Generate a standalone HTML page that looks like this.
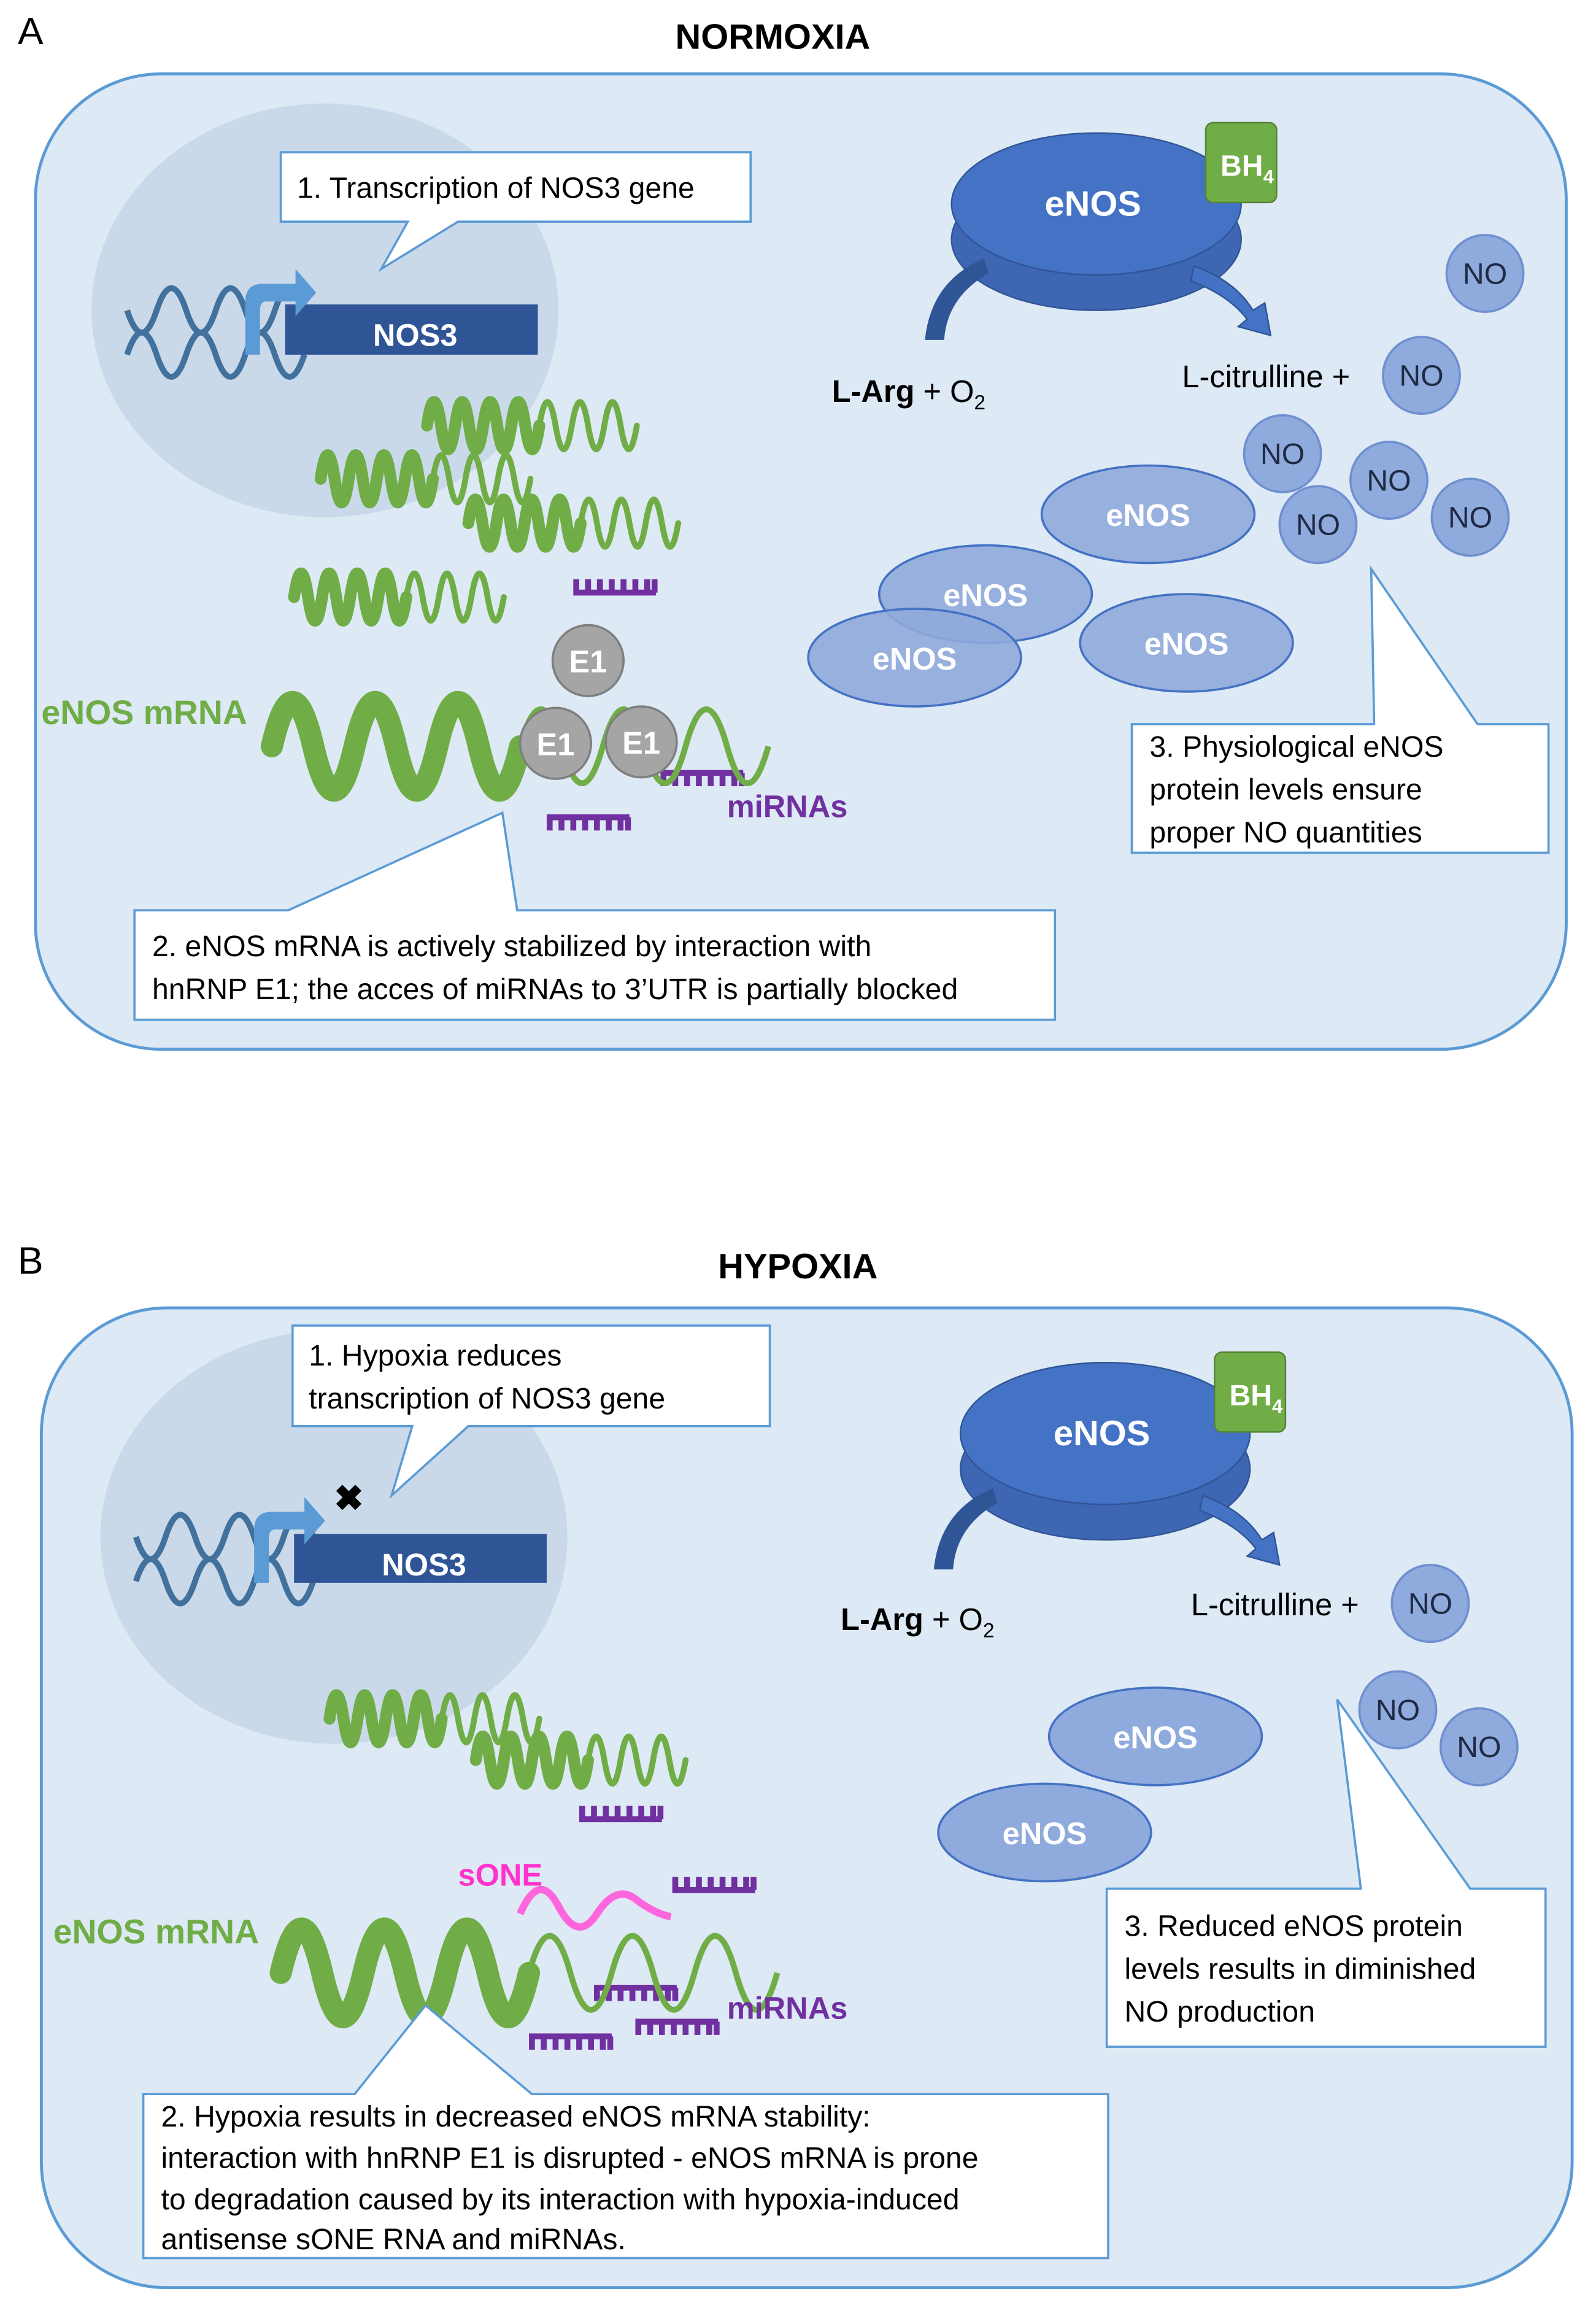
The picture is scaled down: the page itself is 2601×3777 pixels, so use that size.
<!DOCTYPE html>
<html><head><meta charset="utf-8"><style>html,body{margin:0;padding:0;background:#fff}svg{display:block}text{font-family:"Liberation Sans",sans-serif}</style></head><body>
<svg width="2601" height="3777" viewBox="0 0 2601 3777" xmlns="http://www.w3.org/2000/svg">
<g transform="scale(2.408)">
<defs>
<g id="sq"><path d="M0,0 q4.75,-32 9.5,0 t9.5,0 t9.5,0 t9.5,0 t9.5,0 t9.5,0 t9.5,0 t9.5,0" fill="none" stroke="#70ad47" stroke-width="8" stroke-linecap="round"/><path d="M76,0 q5.5,-32 11,0 t11,0 t11,0 t11,0 t11,0 t11,0" fill="none" stroke="#70ad47" stroke-width="4" stroke-linecap="round"/></g>
<g id="mi"><path d="M0,0 h56 M2,0 v-9 M10,0 v-9 M18,0 v-9 M26,0 v-9 M34,0 v-9 M42,0 v-9 M50,0 v-9 M55,0 v-9" stroke="#7030a0" stroke-width="4" fill="none"/></g>
<g id="mid"><path d="M0,0 h56 M2,0 v9 M10,0 v9 M18,0 v9 M26,0 v9 M34,0 v9 M42,0 v9 M50,0 v9 M55,0 v9" stroke="#7030a0" stroke-width="4" fill="none"/></g>
<g id="dna"><path d="M0,0 q10,30 20,0 t20,0 t20,0 t20,0 t20,0 t20,0" fill="none" stroke="#41719c" stroke-width="4"/><path d="M0,30 q10,-30 20,0 t20,0 t20,0 t20,0 t20,0 t20,0" fill="none" stroke="#41719c" stroke-width="4"/></g>
<g id="main"><path d="M0,0 q14,-60 28,0 t28,0 t28,0 t28,0 t28,0 t28,0" fill="none" stroke="#70ad47" stroke-width="15" stroke-linecap="round"/><path d="M168,0 q14,-50 28,0 t28,0 t28,0 t28,0 t28,0 t28,0" fill="none" stroke="#70ad47" stroke-width="4"/></g>
</defs>
<text x="12" y="30" font-size="26">A</text>
<text x="523" y="33" font-size="24" font-weight="bold" text-anchor="middle">NORMOXIA</text>
<rect x="24" y="50" width="1036" height="660" rx="85" fill="#dde9f5" stroke="#5b9bd5" stroke-width="2"/>
<ellipse cx="220" cy="210" rx="158" ry="140" fill="#cad9ea"/>
<use href="#dna" x="86" y="210"/>
<rect x="193" y="206" width="171" height="34" fill="#2f5597"/>
<text x="281" y="234" font-size="21" font-weight="bold" fill="#fff" text-anchor="middle">NOS3</text>
<path d="M166,240 v-36 q0,-12 12,-12 h22 v-10 l14,16 l-14,16 v-10 h-20 q-4,0 -4,6 v30z" fill="#5b9bd5"/>
<path d="M190,103 h318 v47 h-198 l-52,32 l18,-32 h-86z" fill="#fff" stroke="#5b9bd5" stroke-width="1.5"/>
<text x="201" y="134" font-size="20">1. Transcription of NOS3 gene</text>
<use href="#sq" x="289" y="288"/><use href="#sq" x="217" y="324"/><use href="#sq" x="317" y="354"/><use href="#sq" x="199" y="404"/>
<use href="#mi" x="388" y="401"/><use href="#mid" x="447" y="523"/><use href="#mid" x="370" y="553"/>
<use href="#main" x="184" y="505"/>
<g fill="#a5a5a5" stroke="#7f7f7f" stroke-width="1.5"><circle cx="398" cy="447" r="24"/><circle cx="376" cy="503" r="24"/><circle cx="434" cy="502" r="24"/></g>
<g font-size="21" font-weight="bold" fill="#fff" text-anchor="middle"><text x="398" y="455">E1</text><text x="376" y="511">E1</text><text x="434" y="510">E1</text></g>
<text x="28" y="490" font-size="23" font-weight="bold" fill="#70ad47">eNOS mRNA</text>
<text x="492" y="553" font-size="21" font-weight="bold" fill="#7030a0">miRNAs</text>
<path d="M91,616 h104 l145,-66 l10,66 h364 v74 h-623z" fill="#fff" stroke="#5b9bd5" stroke-width="1.5"/>
<text x="103" y="647" font-size="20">2. eNOS mRNA is actively stabilized by interaction with</text>
<text x="103" y="676" font-size="20">hnRNP E1; the acces of miRNAs to 3’UTR is partially blocked</text>
<ellipse cx="742" cy="162" rx="98" ry="48" fill="#3e66b3" stroke="#2f5597"/>
<ellipse cx="742" cy="138" rx="98" ry="48" fill="#4472c4" stroke="#2f5597"/>
<rect x="816" y="83" width="48" height="54" rx="5" fill="#70ad47" stroke="#548235"/>
<text x="826" y="119" font-size="20" font-weight="bold" fill="#fff">BH<tspan font-size="13" dy="5">4</tspan></text>
<text x="707" y="146" font-size="24" font-weight="bold" fill="#fff">eNOS</text>
<path d="M626,230 q4,-40 40,-55 l3,10 q-28,16 -30,45z" fill="#2f5597"/>
<path d="M808,180 q28,10 40,30 l8,-5 l4,22 l-22,-6 l6,-5 q-12,-16 -38,-26z" fill="#4472c4" stroke="#2f5597"/>
<text x="563" y="272" font-size="21"><tspan font-weight="bold">L-Arg</tspan> + O<tspan font-size="14" dy="5">2</tspan></text>
<text x="800" y="262" font-size="21">L-citrulline +</text>
<g fill="#8faadc" stroke="#6f8fd0" stroke-width="1.5"><circle cx="962" cy="254" r="26"/><circle cx="1005" cy="185" r="26"/><circle cx="868" cy="307" r="26"/><circle cx="940" cy="325" r="26"/><circle cx="892" cy="355" r="26"/><circle cx="995" cy="350" r="26"/></g>
<g font-size="20" text-anchor="middle" fill="#1f2a44"><text x="962" y="261">NO</text><text x="1005" y="192">NO</text><text x="868" y="314">NO</text><text x="940" y="332">NO</text><text x="892" y="362">NO</text><text x="995" y="357">NO</text></g>
<g fill="#8faadc" fill-opacity="0.9" stroke="#4472c4" stroke-width="1.5"><ellipse cx="777" cy="348" rx="72" ry="33"/><ellipse cx="803" cy="435" rx="72" ry="33"/><ellipse cx="667" cy="402" rx="72" ry="33"/><ellipse cx="619" cy="445" rx="72" ry="33"/></g>
<g font-size="21" font-weight="bold" fill="#fff" text-anchor="middle"><text x="777" y="356">eNOS</text><text x="803" y="443">eNOS</text><text x="667" y="410">eNOS</text><text x="619" y="453">eNOS</text></g>
<path d="M766,490 h164 l-2,-105 l72,105 h48 v87 h-282z" fill="#fff" stroke="#5b9bd5" stroke-width="1.5"/>
<text x="778" y="512" font-size="20">3. Physiological eNOS</text>
<text x="778" y="541" font-size="20">protein levels ensure</text>
<text x="778" y="570" font-size="20">proper NO quantities</text>

<text x="12" y="862" font-size="26">B</text>
<text x="540" y="865" font-size="24" font-weight="bold" text-anchor="middle">HYPOXIA</text>
<rect x="28" y="885" width="1036" height="663" rx="85" fill="#dde9f5" stroke="#5b9bd5" stroke-width="2"/>
<ellipse cx="226" cy="1040" rx="158" ry="140" fill="#cad9ea"/>
<use href="#dna" x="92" y="1040"/>
<rect x="199" y="1038" width="171" height="33" fill="#2f5597"/>
<text x="287" y="1066" font-size="21" font-weight="bold" fill="#fff" text-anchor="middle">NOS3</text>
<path d="M172,1071 v-36 q0,-12 12,-12 h22 v-10 l14,16 l-14,16 v-10 h-20 q-4,0 -4,6 v30z" fill="#5b9bd5"/>
<text x="236" y="1022" font-size="24" font-weight="bold" text-anchor="middle">✖</text>
<path d="M198,897 h323 v68 h-204 l-52,47 l14,-47 h-81z" fill="#fff" stroke="#5b9bd5" stroke-width="1.5"/>
<text x="209" y="924" font-size="20">1. Hypoxia reduces</text>
<text x="209" y="953" font-size="20">transcription of NOS3 gene</text>
<use href="#sq" x="223" y="1163"/><use href="#sq" x="322" y="1191"/>
<use href="#mi" x="392" y="1231"/><use href="#mi" x="455" y="1279"/><use href="#mid" x="402" y="1345"/><use href="#mid" x="430" y="1368"/><use href="#mid" x="358" y="1378"/>
<use href="#main" x="190" y="1335"/>
<path d="M352,1295 q13,-30 26,-5 t26,5 t26,-10 t24,12" fill="none" stroke="#ff66dd" stroke-width="5"/>
<text x="310" y="1276" font-size="21" font-weight="bold" fill="#ff33cc">sONE</text>
<text x="36" y="1315" font-size="23" font-weight="bold" fill="#70ad47">eNOS mRNA</text>
<text x="492" y="1366" font-size="21" font-weight="bold" fill="#7030a0">miRNAs</text>
<path d="M97,1417 h143 l48,-60 l72,60 h390 v111 h-653z" fill="#fff" stroke="#5b9bd5" stroke-width="1.5"/>
<text x="109" y="1439" font-size="20">2. Hypoxia results in decreased eNOS mRNA stability:</text>
<text x="109" y="1467" font-size="20">interaction with hnRNP E1 is disrupted - eNOS mRNA is prone</text>
<text x="109" y="1495" font-size="20">to degradation caused by its interaction with hypoxia-induced</text>
<text x="109" y="1522" font-size="20">antisense sONE RNA and miRNAs.</text>
<ellipse cx="748" cy="994" rx="98" ry="48" fill="#3e66b3" stroke="#2f5597"/>
<ellipse cx="748" cy="970" rx="98" ry="48" fill="#4472c4" stroke="#2f5597"/>
<rect x="822" y="915" width="48" height="54" rx="5" fill="#70ad47" stroke="#548235"/>
<text x="832" y="951" font-size="20" font-weight="bold" fill="#fff">BH<tspan font-size="13" dy="5">4</tspan></text>
<text x="713" y="978" font-size="24" font-weight="bold" fill="#fff">eNOS</text>
<path d="M632,1062 q4,-40 40,-55 l3,10 q-28,16 -30,45z" fill="#2f5597"/>
<path d="M814,1012 q28,10 40,30 l8,-5 l4,22 l-22,-6 l6,-5 q-12,-16 -38,-26z" fill="#4472c4" stroke="#2f5597"/>
<text x="569" y="1103" font-size="21"><tspan font-weight="bold">L-Arg</tspan> + O<tspan font-size="14" dy="5">2</tspan></text>
<text x="806" y="1093" font-size="21">L-citrulline +</text>
<g fill="#8faadc" stroke="#6f8fd0" stroke-width="1.5"><circle cx="968" cy="1085" r="26"/><circle cx="946" cy="1157" r="26"/><circle cx="1001" cy="1182" r="26"/></g>
<g font-size="20" text-anchor="middle" fill="#1f2a44"><text x="968" y="1092">NO</text><text x="946" y="1164">NO</text><text x="1001" y="1189">NO</text></g>
<g fill="#8faadc" stroke="#4472c4" stroke-width="1.5"><ellipse cx="782" cy="1175" rx="72" ry="33"/><ellipse cx="707" cy="1240" rx="72" ry="33"/></g>
<g font-size="21" font-weight="bold" fill="#fff" text-anchor="middle"><text x="782" y="1183">eNOS</text><text x="707" y="1248">eNOS</text></g>
<path d="M749,1278 h172 l-16,-128 l90,128 h51 v107 h-297z" fill="#fff" stroke="#5b9bd5" stroke-width="1.5"/>
<text x="761" y="1310" font-size="20">3. Reduced eNOS protein</text>
<text x="761" y="1339" font-size="20">levels results in diminished</text>
<text x="761" y="1368" font-size="20">NO production</text>
</g>
</svg>
</body></html>
